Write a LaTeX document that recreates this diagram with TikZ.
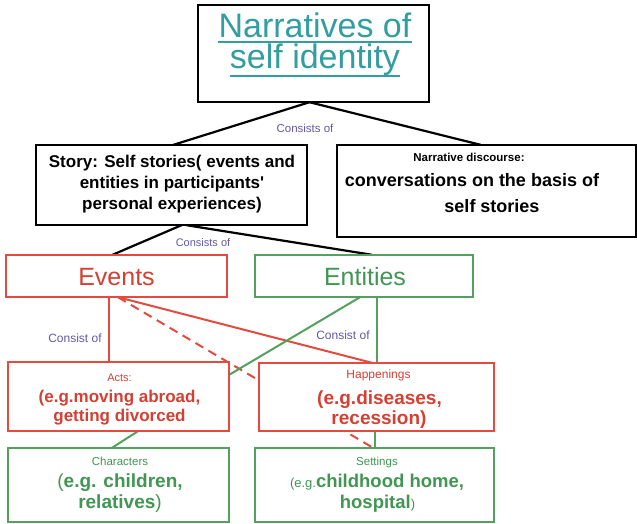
\documentclass[tikz,border=0pt]{standalone}
\usepackage{fontspec}
\setmainfont{Liberation Sans}
\definecolor{tealtx}{RGB}{50,158,160}
\definecolor{redb}{RGB}{228,74,62}
\definecolor{redt}{RGB}{212,64,50}
\definecolor{greenb}{RGB}{84,160,94}
\definecolor{greent}{RGB}{64,150,82}
\definecolor{labc}{RGB}{98,88,168}
\newcommand\fsz[1]{\fontsize{#1}{#1}\selectfont}
\begin{document}
\begin{tikzpicture}[x=1pt,y=-1pt,
  boxbase/.style={draw, line width=2.4pt, fill=white, inner sep=0pt},
  blackbox/.style={boxbase, draw=black},
  redbox/.style={boxbase, draw=redb},
  greenbox/.style={boxbase, draw=greenb},
  txt/.style={inner sep=0pt, anchor=base},
  lab/.style={inner sep=0pt, text=labc, font=\fsz{11}},
  blackline/.style={draw=black, line width=2.2pt},
  redline/.style={draw=redb, line width=2pt},
  greenline/.style={draw=greenb, line width=2pt},
  uline/.style={draw=tealtx, line width=1.8pt}]
\useasboundingbox (0,0) rectangle (637,523);
% box positions
\path (313.5,53.5) coordinate (ctop) (171.5,185) coordinate (cstory)
      (486.5,191) coordinate (cnarr) (116.5,276) coordinate (cevents)
      (364,276) coordinate (centities) (118.5,396.5) coordinate (cacts)
      (376.5,397) coordinate (chapp) (118.5,485) coordinate (cchar)
      (374.5,485) coordinate (csett);
% box frames used as connector anchors
\path node[minimum width=231pt, minimum height=97pt, inner sep=0pt] (top) at (ctop) {}
      node[minimum width=271pt, minimum height=80pt, inner sep=0pt] (story) at (cstory) {}
      node[minimum width=299pt, minimum height=92pt, inner sep=0pt] (narr) at (cnarr) {}
      node[minimum width=221pt, minimum height=42pt, inner sep=0pt] (events) at (cevents) {}
      node[minimum width=218pt, minimum height=42pt, inner sep=0pt] (entities) at (centities) {}
      node[minimum width=221pt, minimum height=69pt, inner sep=0pt] (acts) at (cacts) {}
      node[minimum width=235pt, minimum height=68pt, inner sep=0pt] (happ) at (chapp) {}
      node[minimum width=221pt, minimum height=74pt, inner sep=0pt] (char) at (cchar) {}
      node[minimum width=239pt, minimum height=74pt, inner sep=0pt] (sett) at (csett) {};
% connectors
\draw[blackline] ([xshift=-4pt]top.south) -- ([xshift=2pt]story.north);
\draw[blackline] ([xshift=-4pt]top.south) -- ([xshift=-6pt]narr.north);
\draw[blackline] ([xshift=10pt]story.south) -- ([xshift=-4pt]events.north);
\draw[blackline] ([xshift=15pt]story.south) -- ([xshift=8pt]entities.north);
\draw[redline] ([xshift=-7.5pt]events.south) -- ([xshift=-9.5pt]acts.north);
\draw[redline] ([xshift=1.5pt]events.south) -- ([xshift=-4.5pt]happ.north);
\draw[redline, dash pattern=on 9pt off 6pt] ([xshift=1.5pt]events.south) -- ([xshift=-1.5pt]sett.north);
\draw[greenline] ([xshift=-4pt]entities.south) -- ([yshift=-13pt]acts.north east);
\draw[greenline] ([xshift=13pt]entities.south) -- ([xshift=0.5pt]happ.north);
\draw[greenline] ([xshift=19.5pt]acts.south) -- ([xshift=-6.5pt]char.north);
\draw[greenline] ([xshift=-1.5pt]happ.south) -- ([xshift=0.5pt]sett.north);
% box outlines
\node[blackbox, minimum width=231pt, minimum height=97pt] (topb) at (ctop) {};
\node[blackbox, minimum width=271pt, minimum height=80pt] (storyb) at (cstory) {};
\node[blackbox, minimum width=299pt, minimum height=92pt] (narrb) at (cnarr) {};
\node[redbox, minimum width=221pt, minimum height=42pt] (eventsb) at (cevents) {};
\node[greenbox, minimum width=218pt, minimum height=42pt] (entitiesb) at (centities) {};
\node[redbox, minimum width=221pt, minimum height=69pt] (actsb) at (cacts) {};
\node[redbox, minimum width=235pt, minimum height=68pt] (happb) at (chapp) {};
\node[greenbox, minimum width=221pt, minimum height=74pt] (charb) at (cchar) {};
\node[greenbox, minimum width=239pt, minimum height=74pt] (settb) at (csett) {};
% texts
\node[txt, text=tealtx, font=\fsz{34}] (t1) at (315,37) {Narratives of};
\node[txt, text=tealtx, font=\fsz{34}] (t2) at (315,68) {self identity};
\draw[uline] ([yshift=-5pt]t1.base west) -- ([yshift=-5pt]t1.base east);
\draw[uline] ([yshift=-8pt]t2.base west) -- ([yshift=-8pt]t2.base east);
\node[lab, font=\fsz{11.5}] (l1) at (305,128) {Consists of};
\node[txt, font=\fsz{17}\bfseries] (s1) at (172,167) {Story: Self stories( events and};
\node[txt, font=\fsz{17}\bfseries] (s2) at (172,188) {entities in participants\textquotesingle};
\node[txt, font=\fsz{17}\bfseries] (s3) at (172,209) {personal experiences)};
\node[txt, font=\fsz{11.5}\bfseries] (n1) at (469,161) {Narrative discourse:};
\node[txt, font=\fsz{18}\bfseries] (n2) at (472,186) {conversations on the basis of};
\node[txt, font=\fsz{18}\bfseries] (n3) at (492,212) {self stories};
\node[lab] (l2) at (203,243) {Consists of};
\node[txt, text=redt, font=\fsz{25}] (ev) at (116.5,285) {Events};
\node[txt, text=greent, font=\fsz{25}] (en) at (365,285) {Entities};
\node[lab, font=\fsz{12}] (l3) at (75,338) {Consist of};
\node[lab, font=\fsz{12}] (l4) at (343,335) {Consist of};
\node[txt, text=redt, font=\fsz{11}] (a1) at (119.5,381) {Acts:};
\node[txt, text=redt, font=\fsz{17}\bfseries] (a2) at (119.5,402) {(e.g.moving abroad,};
\node[txt, text=redt, font=\fsz{17}\bfseries] (a3) at (119.5,421) {getting divorced};
\node[txt, text=redt, font=\fsz{12}] (h1) at (378.5,378) {Happenings};
\node[txt, text=redt, font=\fsz{19}\bfseries] (h2) at (379.5,404) {(e.g.diseases,};
\node[txt, text=redt, font=\fsz{19}\bfseries] (h3) at (379,424) {recession)};
\node[txt, text=greent, font=\fsz{11.5}] (c1) at (120,465) {Characters};
\node[txt, text=greent, font=\fsz{19}] (c2) at (120,487) {(\textbf{e.g. children,}};
\node[txt, text=greent, font=\fsz{19}] (c3) at (120,508) {\textbf{relatives})};
\node[txt, text=greent, font=\fsz{11.5}] (g1) at (377,465) {Settings};
\node[txt, text=greent, font=\fsz{13}] (g2) at (377,487) {(e.g.\fsz{18.5}\bfseries childhood home,};
\node[txt, text=greent, font=\fsz{18.5}\bfseries] (g3) at (377.5,508) {hospital\fsz{13}\mdseries)};
\end{tikzpicture}
\end{document}
